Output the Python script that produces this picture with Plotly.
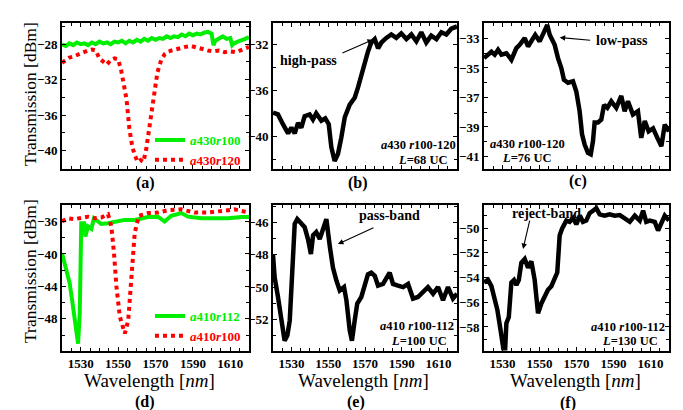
import plotly.graph_objects as go

W, H = 683, 410
FONT = "Times New Roman, Liberation Serif, DejaVu Serif, serif"
GREEN = "#00ee00"
RED = "#ff0000"
BLACK = "#000000"

# ---------------- data (wavelength in nm, transmission in dBm) ----------------
wl_a_green = [1520, 1522, 1524, 1526, 1528, 1530, 1532, 1534, 1536, 1538, 1540, 1542, 1544, 1546,
              1548, 1550, 1552, 1554, 1556, 1558, 1560, 1562, 1564, 1566, 1568, 1570, 1572, 1574,
              1576, 1578, 1580, 1582, 1584, 1586, 1588, 1590, 1592, 1594, 1596, 1598, 1600, 1601,
              1602, 1604, 1606, 1608, 1610, 1611, 1612, 1614, 1616, 1618, 1620]
tx_a_green = [-28.0, -28.2, -27.9, -28.1, -27.8, -28.0, -27.9, -28.1, -27.8, -28.0, -27.7, -27.9, -27.8, -28.0,
              -27.7, -27.8, -27.6, -27.9, -27.6, -27.8, -27.5, -27.7, -27.4, -27.6, -27.3, -27.5, -27.3, -27.4,
              -27.1, -27.3, -27.1, -27.2, -26.9, -27.1, -26.8, -27.0, -26.8, -26.9, -26.7, -26.6, -26.8, -28.1,
              -27.6, -27.3, -27.1, -27.4, -27.3, -28.1, -27.9, -27.7, -27.6, -27.4, -27.2]

wl_a_red = [1520, 1522, 1524, 1526, 1528, 1530, 1532, 1534, 1536, 1538, 1540, 1542, 1544, 1546, 1548,
            1550, 1551.5, 1553, 1554.5, 1556, 1557.5, 1559, 1560.5, 1562, 1563.5, 1565, 1566.5, 1568,
            1569.5, 1571, 1573, 1575, 1577, 1580, 1583, 1586, 1589, 1592, 1595, 1598, 1601, 1604, 1607,
            1610, 1613, 1616, 1620]
tx_a_red = [-30.1, -29.8, -29.5, -29.4, -29.2, -29.1, -28.9, -28.7, -28.6, -28.7, -29.6, -30.0, -30.3, -29.8, -29.6,
            -29.7, -30.8, -32.5, -34.2, -37.5, -39.5, -40.6, -41.3, -41.1, -41.3, -39.9, -37.8, -35.2,
            -33.0, -31.2, -29.8, -29.1, -28.8, -28.6, -28.5, -28.3, -28.2, -28.4, -28.5, -28.7, -28.8, -28.7, -28.9,
            -28.8, -28.9, -28.6, -28.3]

wl_b = [1520, 1522.7, 1525.4, 1528.2, 1530, 1531.8, 1533.6, 1535.4, 1537.2, 1539.9, 1541.7, 1543.5, 1546.3,
        1548.4, 1550.3, 1551.7, 1553.5, 1555.3, 1557.1, 1559, 1561.7, 1564.4, 1566.2, 1568, 1569.8, 1571.6,
        1573.4, 1575.3, 1577.1, 1578.9, 1581.6, 1584.3, 1587, 1589.7, 1592.5, 1595.2, 1597.9, 1600.6, 1603.3,
        1606, 1608.8, 1611.5, 1614.2, 1616.9, 1620]
tx_b = [-37.9, -38.05, -38.9, -39.7, -39.2, -39.7, -38.8, -39.2, -38.2, -38.05, -38.5, -37.95, -38.6,
        -38.4, -38.9, -40.9, -42.1, -41.5, -40.1, -38.3, -37.2, -36.6, -35.7, -34.6, -33.6, -32.6,
        -31.8, -31.5, -32.3, -31.8, -31.4, -31.1, -31.4, -31.0, -31.5, -31.1, -31.7, -30.9, -31.8,
        -31.2, -31.5, -30.9, -31.1, -30.6, -30.4]

wl_c = [1520, 1522.2, 1524, 1525.8, 1527.6, 1529.4, 1532.1, 1534.8, 1537.5, 1539.3, 1542, 1543.8, 1545.6,
        1547.7, 1550.1, 1552.4, 1554.2, 1555.5, 1558.2, 1560, 1561.8, 1563.2, 1565.4, 1568.1, 1569.9, 1571.7,
        1573, 1574.4, 1576.2, 1577.7, 1578.9, 1579.8, 1581.6, 1583.4, 1584.9, 1586.7, 1588.8, 1591.5, 1594.2,
        1596, 1597.8, 1600.5, 1603.2, 1605, 1606.9, 1609, 1611.4, 1613.7, 1615.9, 1617.7, 1620]
tx_c = [-34.33, -34.1, -33.9, -34.1, -33.77, -34.1, -34.0, -34.44, -33.65, -33.43, -32.98, -33.54, -33.1,
        -32.75, -33.2, -32.5, -32.08, -32.75, -33.43, -34.33, -35.0, -35.8, -36.0, -35.9, -36.6, -37.93,
        -39.5, -40.2, -40.75, -40.85, -39.96, -38.7, -38.7, -38.5, -37.5, -37.7, -37.26, -37.7, -36.9,
        -37.93, -37.26, -38.16, -37.93, -39.74, -38.6, -39.3, -39.1, -39.74, -40.3, -38.84, -39.3]

wl_d_green = [1520, 1522.3, 1524.1, 1525.9, 1527.7, 1528.6, 1529.5, 1530.3, 1531.8, 1532.5, 1533.9, 1535.7,
              1537.1, 1538.9, 1541, 1544.6, 1548.2, 1553.5, 1558.9, 1566, 1571.3, 1574.9, 1578.4, 1583.8,
              1587.4, 1594.5, 1601.7, 1608.8, 1615.9, 1620]
tx_d_green = [-39.9, -42.0, -43.6, -46.5, -50.2, -51.05, -47.3, -36.2, -36.2, -37.85, -36.6, -36.9,
              -35.6, -36.0, -36.3, -36.2, -36.0, -35.8, -35.8, -35.45, -35.4, -36.0, -35.3, -34.96,
              -35.4, -35.6, -35.6, -35.6, -35.45, -35.45]

wl_d_red = [1520, 1523.2, 1526.8, 1530.3, 1533.9, 1537.5, 1541, 1544.6, 1546.4, 1547.8, 1549.1, 1550.9,
            1552.7, 1553.6, 1555.4, 1557.2, 1558.9, 1561.1, 1566, 1571.3, 1576.7, 1583.8, 1591, 1598.1,
            1605.2, 1612.3, 1620]
tx_d_red = [-35.98, -35.6, -35.7, -35.6, -35.4, -35.6, -35.5, -35.1, -36.6, -39.9, -44.0, -47.7,
            -49.0, -49.8, -48.2, -42.8, -37.4, -35.3, -34.96, -34.9, -34.6, -34.5, -34.9, -34.9,
            -34.75, -34.5, -34.9]

wl_e = [1520, 1520.9, 1522.7, 1524.5, 1526.3, 1527.8, 1529.1, 1530.5, 1531.8, 1533.2, 1535.4, 1537.2,
        1539, 1540.6, 1541.8, 1543.5, 1545.4, 1547.2, 1549, 1550.9, 1552.6, 1554.5, 1556.3, 1558.6,
        1559.9, 1561.7, 1562.9, 1564.4, 1565.8, 1568, 1569.8, 1571.6, 1573.4, 1575.3, 1577.1, 1579.8,
        1583.4, 1585.2, 1587.9, 1590.7, 1593.4, 1596.1, 1598.8, 1601.5, 1604.2, 1607, 1609.7, 1612.4,
        1615.1, 1617.8, 1620]
tx_e = [-48.0, -49.4, -50.6, -51.8, -53.3, -52.98, -52.05, -48.97, -46.1, -45.8, -46.1, -46.3,
        -47.03, -47.95, -46.8, -46.6, -47.03, -46.5, -45.8, -47.5, -48.8, -49.6, -50.2, -49.99,
        -50.8, -52.66, -53.3, -52.05, -51.0, -50.6, -49.99, -49.2, -49.1, -49.3, -49.9, -49.8,
        -49.1, -49.8, -49.9, -49.99, -49.8, -50.7, -50.6, -50.3, -49.99, -50.4, -49.99, -50.8,
        -49.99, -50.7, -50.4]

wl_f = [1520, 1522.2, 1524, 1525.4, 1527.2, 1529, 1530.3, 1531.2, 1532.1, 1533.4, 1534.8, 1536.2,
        1537.5, 1538.8, 1540.2, 1542, 1543.8, 1545.6, 1547.4, 1549.2, 1551, 1552.8, 1554.6, 1556.4,
        1558.2, 1559.6, 1560.9, 1562.2, 1564.5, 1566.3, 1568.1, 1569.9, 1571.8, 1573.5, 1575.3, 1577.1,
        1578.9, 1580.7, 1582.5, 1585.2, 1587.9, 1590.6, 1593.4, 1596.1, 1598.8, 1601.5, 1604.2, 1606,
        1607.7, 1609.6, 1612.3, 1614.1, 1615.9, 1617.7, 1620]
tx_f = [-54.4, -54.2, -54.7, -55.4, -56.6, -58.3, -59.9, -60.5, -57.7, -57.2, -54.4, -54.2,
        -54.6, -54.2, -52.8, -52.5, -53.2, -52.7, -54.2, -56.9, -56.1, -55.5, -55.0, -54.7,
        -54.0, -53.6, -50.6, -50.05, -49.4, -49.5, -49.2, -49.7, -49.0, -49.5, -49.4, -48.8,
        -48.6, -48.4, -48.9, -49.0, -48.9, -49.0, -48.95, -49.2, -49.5, -49.0, -49.4, -48.6,
        -49.5, -49.4, -49.5, -50.2, -49.5, -49.0, -49.4]

x_ticks = [1530, 1550, 1570, 1590, 1610]
panel_letters = ["(a)", "(b)", "(c)", "(d)", "(e)", "(f)"]
legend_a = ["<i>a</i>430<i>r</i>100", "<i>a</i>430<i>r</i>120"]
legend_d = ["<i>a</i>410<i>r</i>112", "<i>a</i>410<i>r</i>100"]

# ---------------- figure ----------------
def px(x):
    return x / W


def py(y):
    return 1 - y / H


fig = go.Figure()

fig.add_trace(go.Scatter(x=wl_a_green, y=tx_a_green, xaxis="x", yaxis="y", mode="lines",
                         line=dict(color=GREEN, width=4), legend="legend",
                         name=f'<span style="color:{GREEN}">{legend_a[0]}</span>'))
fig.add_trace(go.Scatter(x=wl_a_red, y=tx_a_red, xaxis="x", yaxis="y", mode="lines",
                         line=dict(color=RED, width=4, dash="dot"), legend="legend",
                         name=f'<span style="color:{RED}">{legend_a[1]}</span>'))
fig.add_trace(go.Scatter(x=wl_b, y=tx_b, xaxis="x2", yaxis="y2", mode="lines",
                         line=dict(color=BLACK, width=4.5), showlegend=False))
fig.add_trace(go.Scatter(x=wl_c, y=tx_c, xaxis="x3", yaxis="y3", mode="lines",
                         line=dict(color=BLACK, width=4.5), showlegend=False))
fig.add_trace(go.Scatter(x=wl_d_green, y=tx_d_green, xaxis="x4", yaxis="y4", mode="lines",
                         line=dict(color=GREEN, width=4), legend="legend2",
                         name=f'<span style="color:{GREEN}">{legend_d[0]}</span>'))
fig.add_trace(go.Scatter(x=wl_d_red, y=tx_d_red, xaxis="x4", yaxis="y4", mode="lines",
                         line=dict(color=RED, width=4, dash="dot"), legend="legend2",
                         name=f'<span style="color:{RED}">{legend_d[1]}</span>'))
fig.add_trace(go.Scatter(x=wl_e, y=tx_e, xaxis="x5", yaxis="y5", mode="lines",
                         line=dict(color=BLACK, width=4.5), showlegend=False))
fig.add_trace(go.Scatter(x=wl_f, y=tx_f, xaxis="x6", yaxis="y6", mode="lines",
                         line=dict(color=BLACK, width=4.5), showlegend=False))

tickfont = dict(family=FONT, size=13, color="black", weight="bold")

cols = [(54, 241), (265, 449), (476, 661)]
rows = [(15, 161), (196.5, 342.5)]


def xaxis(col, row, anchor, labels):
    return dict(domain=[px(cols[col][0]), px(cols[col][1])], range=[1520, 1620], anchor=anchor,
                showline=True, linecolor="black", linewidth=2, mirror="ticks",
                ticks="inside", ticklen=4, tickwidth=1, tickcolor="black",
                tickvals=x_ticks, showticklabels=labels, tickfont=tickfont,
                minor=dict(ticks="inside", tickmode="linear", tick0=1520, dtick=5, ticklen=3,
                           tickcolor="black", tickwidth=1),
                showgrid=False, zeroline=False, fixedrange=True)


def yaxis(col, row, anchor, rng, tick0, dtick):
    return dict(domain=[py(rows[row][1]), py(rows[row][0])], range=rng, anchor=anchor,
                showline=True, linecolor="black", linewidth=2, mirror="ticks",
                ticks="inside", ticklen=4, tickwidth=1, tickcolor="black",
                tickmode="linear", tick0=tick0, dtick=dtick, tickfont=tickfont,
                minor=dict(ticks="inside", tickmode="linear", tick0=tick0, dtick=dtick / 2, ticklen=3,
                           tickcolor="black", tickwidth=1),
                showgrid=False, zeroline=False, fixedrange=True)


legend_common = dict(xanchor="right", yanchor="middle", bgcolor="rgba(0,0,0,0)",
                     font=dict(family=FONT, size=13, weight="bold"), borderwidth=0, itemwidth=30,
                     tracegroupgap=0)

layout = dict(
    width=W, height=H, margin=dict(l=0, r=0, t=0, b=0),
    paper_bgcolor="white", plot_bgcolor="white",
    font=dict(family=FONT, color="black"),
    xaxis=xaxis(0, 0, "y", False), yaxis=yaxis(0, 0, "x", [-42.1, -25.6], -28, 4),
    xaxis2=xaxis(1, 0, "y2", False), yaxis2=yaxis(1, 0, "x2", [-42.8, -30.1], -32, 4),
    xaxis3=xaxis(2, 0, "y3", False), yaxis3=yaxis(2, 0, "x3", [-41.85, -31.95], -33, 2),
    xaxis4=xaxis(0, 1, "y4", True), yaxis4=yaxis(0, 1, "x4", [-51.9, -33.9], -36, 4),
    xaxis5=xaxis(1, 1, "y5", True), yaxis5=yaxis(1, 1, "x5", [-53.9, -44.9], -46, 2),
    xaxis6=xaxis(2, 1, "y6", True), yaxis6=yaxis(2, 1, "x6", [-59.9, -48.1], -50, 2),
    legend=dict(x=px(238), y=py(142), **legend_common),
    legend2=dict(x=px(238), y=py(318), **legend_common),
    showlegend=True,
)
fig.update_layout(**layout)

ann = []


def text(x, y, s, size, bold=True, angle=0):
    ann.append(dict(xref="paper", yref="paper", x=px(x), y=py(y), text=s, showarrow=False,
                    xanchor="center", yanchor="middle", textangle=angle,
                    font=dict(family=FONT, size=size, color="black",
                              weight="bold" if bold else "normal")))


# panel letters
for (x, y), s in zip([(137, 175), (350, 175), (570, 173), (137, 394), (348, 394), (560, 395)], panel_letters):
    text(x, y, s, 16)

# axis titles
text(22, 86, "Transmission [dBm]", 17.5, bold=False, angle=-90)
text(22, 263, "Transmission [dBm]", 17.5, bold=False, angle=-90)
for xc in (141, 355, 567):
    text(xc, 372, "Wavelength [<i>nm</i>]", 19, bold=False)

# device labels
text(410, 137, "<i>a</i>430 <i>r</i>100-120", 12.5)
text(414, 152, "<i>L</i>=68 UC", 12.5)
text(519, 136, "<i>a</i>430 <i>r</i>100-120", 12.5)
text(518, 149.5, "<i>L</i>=76 UC", 12.5)
text(409, 318, "<i>a</i>410 <i>r</i>100-112", 12.5)
text(411, 332.5, "<i>L</i>=100 UC", 12.5)
text(620, 319, "<i>a</i>410 <i>r</i>100-112", 12.5)
text(622, 333, "<i>L</i>=130 UC", 12.5)

# callouts
text(300, 52.5, "high-pass", 14)
text(614, 32.5, "low-pass", 14)
text(381, 207, "pass-band", 14)
text(538, 205.5, "reject-band", 14)


def arrow(xr, yr, x, y, ax, ay):
    ann.append(dict(xref=xr, yref=yr, x=x, y=y, ax=ax, ay=ay, text="", showarrow=True,
                    arrowhead=2, arrowsize=1, arrowwidth=1.1, arrowcolor="black"))


arrow("x2", "y2", 1574.3, -31.55, -32, 14)
arrow("x3", "y3", 1560.9, -32.93, 32, 3)
arrow("x5", "y5", 1555.3, -47.34, 37, -17)
arrow("x6", "y6", 1541.1, -51.7, 7, -30)

fig.update_layout(annotations=ann)

fig.write_html("out.html")
